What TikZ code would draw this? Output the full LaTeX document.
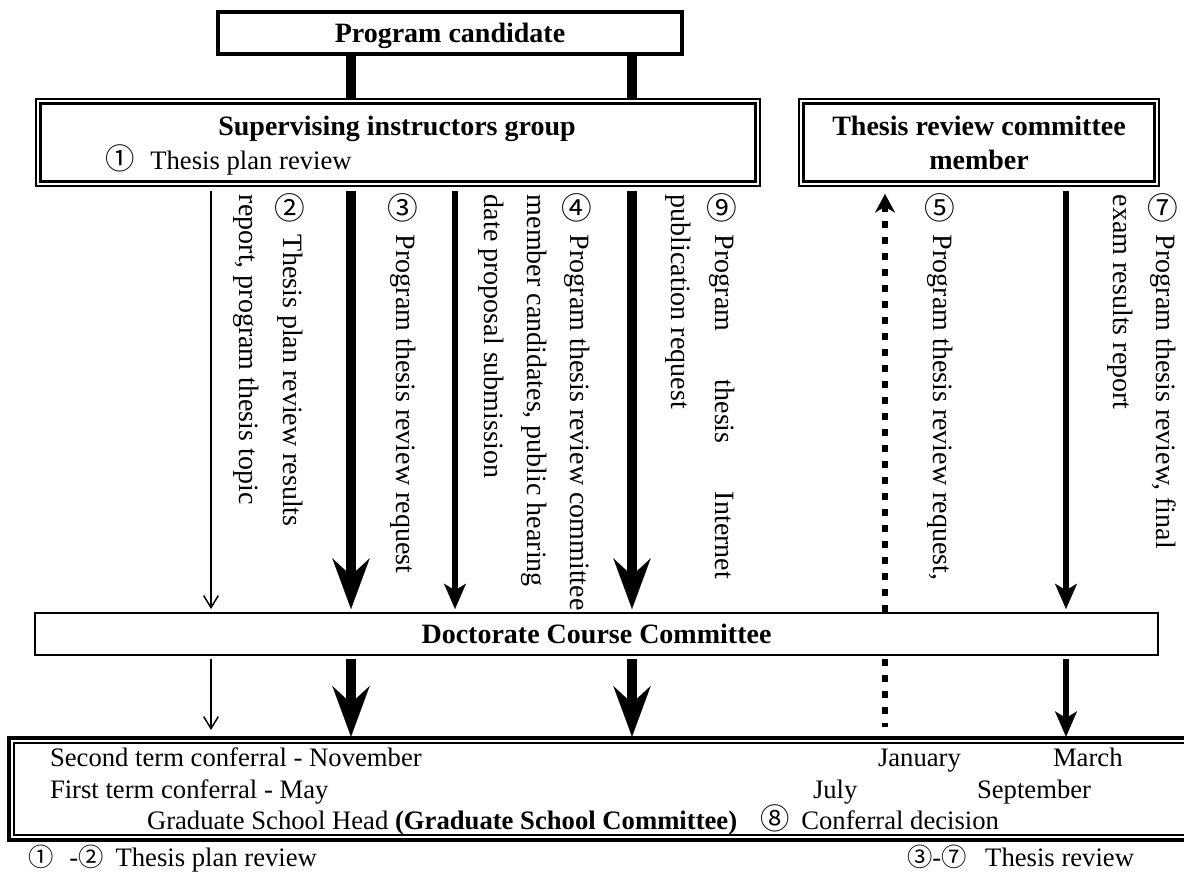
\documentclass[tikz,border=0pt]{standalone}
\usepackage{fontspec}
\setmainfont{Liberation Serif}
\newfontfamily\cjk{Noto Sans CJK JP}
\usetikzlibrary{arrows.meta}
\begin{document}
\begin{tikzpicture}[x=0.75pt,y=-0.75pt,
  box/.style={draw, inner sep=0pt, outer sep=0pt, fill=white},
  txt/.style={inner sep=0pt, outer sep=0pt, anchor=base west, font=\fontsize{20}{24}\selectfont},
  ctxt/.style={txt, anchor=base, font=\fontsize{21}{24}\selectfont\bfseries},
  vtxt/.style={inner sep=0pt, outer sep=0pt, anchor=base west, rotate=-90, font=\fontsize{21}{24}\selectfont},
  cdig/.style={inner sep=0pt, outer sep=0pt, font=\cjk\fontsize{23}{24}\selectfont},
  thinarr/.style={line width=1.1pt, -{Straight Barb[length=9pt,width=11pt]}},
  bigarr/.style={line width=7.5pt, -{Stealth[length=38pt,width=28pt,inset=13pt,line width=0.1pt]}},
  midarr/.style={line width=4.5pt, -{Stealth[length=19pt,width=16.5pt,inset=5pt,line width=0.1pt]}},
  uparr/.style={line width=4.5pt, dash pattern=on 5.25pt off 6.75pt, -{Stealth[length=14pt,width=15pt,inset=4.5pt,line width=0.1pt]}},
  dotline/.style={line width=4.5pt, dash pattern=on 5.25pt off 6.75pt},
  bar/.style={line width=8pt}
]
\useasboundingbox (0,0) rectangle (1184,877);

% x positions of the connectors
\coordinate (xa) at (211,0);
\coordinate (xb) at (351,0);
\coordinate (xc) at (455,0);
\coordinate (xd) at (632,0);
\coordinate (xe) at (885,0);
\coordinate (xf) at (1066,0);

% boxes
\node[box, line width=3pt, minimum width=348pt, minimum height=31.5pt] (cand) at (450,33) {};
\node[box, line width=1.1pt, minimum width=543pt, minimum height=65.25pt] (sup) at (398,142.5) {};
\draw[line width=2.6pt] ([shift={(3.4pt,-3.4pt)}]sup.north west) rectangle ([shift={(-3.4pt,3.4pt)}]sup.south east);
\node[box, line width=1.1pt, minimum width=270pt, minimum height=65.25pt] (trc) at (979,142.5) {};
\draw[line width=2.6pt] ([shift={(3.4pt,-3.4pt)}]trc.north west) rectangle ([shift={(-3.4pt,3.4pt)}]trc.south east);
\node[box, line width=1.7pt, minimum width=842.25pt, minimum height=31.5pt] (dcc) at (596.5,634) {};
\node[box, line width=2.6pt, minimum width=889.5pt, minimum height=76.5pt] (bot) at (602,789) {};
\draw[line width=1.1pt] ([shift={(3.8pt,-3.8pt)}]bot.north west) rectangle ([shift={(-3.8pt,3.8pt)}]bot.south east);

% box texts
\node[ctxt] (candt) at (450,43) {Program candidate};
\node[ctxt] (supt) at (397,136) {Supervising instructors group};
\node[txt] (supr) at (105,170) {{\cjk\fontsize{22}{24}\selectfont ①}\hspace{12pt}Thesis plan review};
\node[ctxt] (trct1) at (979,136) {Thesis review committee};
\node[ctxt] (trct2) at (979,170) {member};
\node[ctxt] (dcct) at (596.5,643) {Doctorate Course Committee};

\node[txt] (b1) at (50,766) {Second term conferral - November};
\node[txt] (b2) at (50,798) {First term conferral - May};
\node[txt] (b3) at (147,829) {Graduate School Head \textbf{(Graduate School Committee)}};
\node[txt] (b4) at (760,829) {{\cjk\fontsize{22}{24}\selectfont ⑧}\hspace{9pt}Conferral decision};
\node[txt] (jan) at (878,766) {January};
\node[txt] (mar) at (1053,766) {March};
\node[txt] (jul) at (813,798) {July};
\node[txt] (sep) at (977,798) {September};
\node[txt] (f1) at (28,866) {{\cjk\fontsize{19}{20}\selectfont ①}\hspace{12pt}-{\cjk\fontsize{19}{20}\selectfont ②}\hspace{9pt}Thesis plan review};
\node[txt] (f2) at (907,866) {{\cjk\fontsize{19}{20}\selectfont ③}-{\cjk\fontsize{19}{20}\selectfont ⑦}\hspace{14pt}Thesis review};

% vertical labels
\node[cdig] (c2) at (290,208) {②};
\node[vtxt] (v2a) at (283.5,235) {Thesis plan review results};
\node[vtxt] (v2b) at (239.5,195) {report, program thesis topic};
\node[cdig] (c3) at (403,208) {③};
\node[vtxt] (v3a) at (396.5,235) {Program thesis review request};
\node[cdig] (c4) at (577,208) {④};
\node[vtxt] (v4a) at (570.5,235) {Program thesis review committee};
\node[vtxt] (v4b) at (527.5,195) {member candidates, public hearing};
\node[vtxt] (v4c) at (484.5,195) {date proposal submission};
\node[cdig] (c9) at (722,208) {⑨};
\node[vtxt] (v9a) at (715.5,235) {\makebox[258pt][s]{Program\hfill thesis\hfill Internet}};
\node[vtxt] (v9b) at (671.5,195) {publication request};
\node[cdig] (c5) at (940,208) {⑤};
\node[vtxt] (v5a) at (933.5,235) {Program thesis review request,};
\node[cdig] (c7) at (1163,208) {⑦};
\node[vtxt] (v7a) at (1156.5,235) {Program thesis review, final};
\node[vtxt] (v7b) at (1113.5,195) {exam results report};

% bars from candidate
\draw[bar] (cand.south -| xb) -- (sup.north -| xb);
\draw[bar] (cand.south -| xd) -- (sup.north -| xd);

% arrows to the Doctorate Course Committee
\draw[thinarr, shorten <=4pt, shorten >=3pt] (sup.south -| xa) -- (dcc.north -| xa);
\draw[bigarr, shorten <=4pt, shorten >=3pt] (sup.south -| xb) -- (dcc.north -| xb);
\draw[midarr, shorten <=4pt, shorten >=3pt] (sup.south -| xc) -- (dcc.north -| xc);
\draw[bigarr, shorten <=4pt, shorten >=3pt] (sup.south -| xd) -- (dcc.north -| xd);
\draw[midarr, shorten <=4pt, shorten >=3pt] (trc.south -| xf) -- (dcc.north -| xf);
\draw[uparr, shorten <=1pt, shorten >=6pt] (dcc.north -| xe) -- (trc.south -| xe);

% arrows to the bottom box
\draw[thinarr, shorten <=3pt, shorten >=6pt] (dcc.south -| xa) -- (bot.north -| xa);
\draw[bigarr, shorten <=3pt, shorten >=1pt] (dcc.south -| xb) -- (bot.north -| xb);
\draw[bigarr, shorten <=3pt, shorten >=1pt] (dcc.south -| xd) -- (bot.north -| xd);
\draw[midarr, shorten <=3pt, shorten >=1pt] (dcc.south -| xf) -- (bot.north -| xf);
\draw[dotline, shorten <=3pt, shorten >=8pt] (dcc.south -| xe) -- (bot.north -| xe);
\end{tikzpicture}
\end{document}
